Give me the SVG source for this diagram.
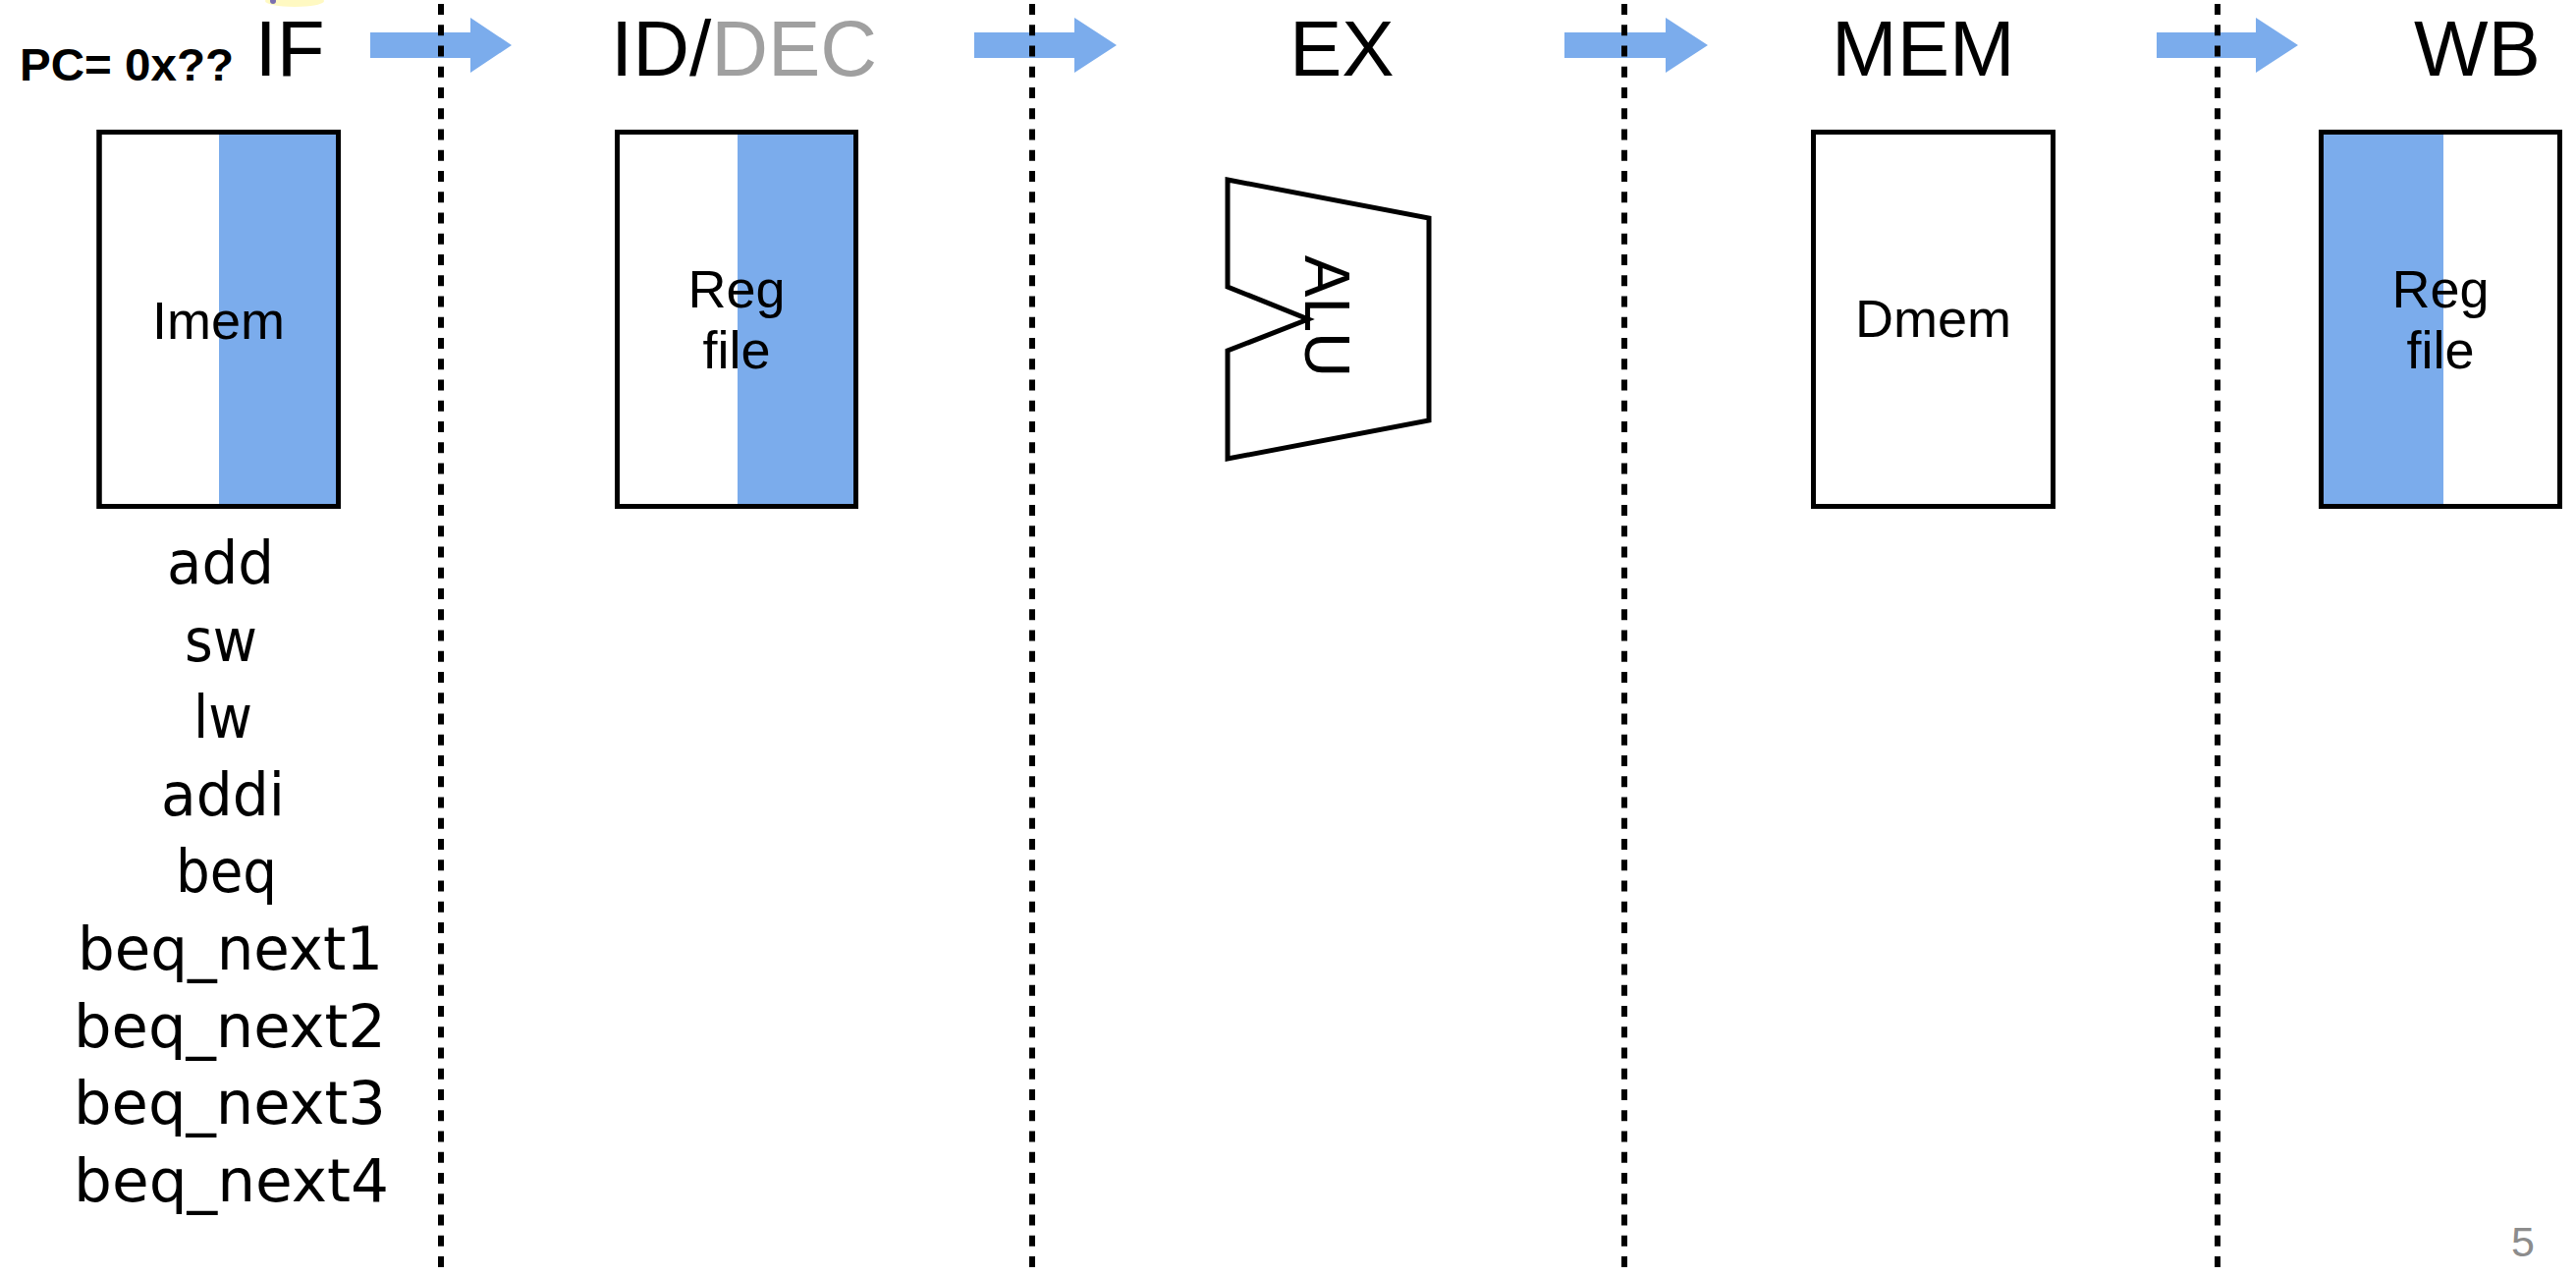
<svg xmlns="http://www.w3.org/2000/svg" width="2623" height="1299" viewBox="0 0 2623 1299">
<style>
.title{font-family:"Liberation Sans",Arial,sans-serif;font-size:80px;fill:#000}
.lbl{font-family:"Liberation Sans",Arial,sans-serif;font-size:54px;fill:#000;text-anchor:middle}
.box{fill:#fff;stroke:#000;stroke-width:5}
.blue{fill:#7BACEC}
.instr{font-family:"DejaVu Sans","Noto Sans",sans-serif;font-size:60px;fill:#000}
.arrow{fill:#7BACEC}
.sep{stroke:#000;stroke-width:6;stroke-dasharray:11 10.25;stroke-dashoffset:-4}
</style>
<rect width="2623" height="1299" fill="#fff"/>

<!-- cursor artifact -->
<ellipse cx="300" cy="1" rx="30" ry="6" fill="#fff6a8" opacity="0.7"/>
<circle cx="278" cy="1" r="3" fill="#7a6fb0"/>

<!-- stage titles -->
<g id="titles">
  <text x="20" y="82" font-family="'Liberation Sans',Arial,sans-serif" font-size="47" font-weight="bold" textLength="218" lengthAdjust="spacingAndGlyphs">PC= 0x??</text>
  <text class="title" x="259.5" y="77">IF</text>
  <text class="title" x="622" y="77">ID/<tspan fill="#A0A0A0">DEC</tspan></text>
  <text class="title" x="1313" y="77">EX</text>
  <text class="title" x="1865" y="77">MEM</text>
  <text class="title" x="2458" y="77">WB</text>
</g>

<!-- connectors: stage arrows -->
<g id="connectors">
  <polygon class="arrow" points="377,33 479,33 479,18 521,46 479,74 479,59 377,59"/>
  <polygon class="arrow" points="992,33 1094,33 1094,18 1137,46 1094,74 1094,59 992,59"/>
  <polygon class="arrow" points="1593,33 1696,33 1696,18 1739,46 1696,74 1696,59 1593,59"/>
  <polygon class="arrow" points="2196,33 2297,33 2297,18 2340,46 2297,74 2297,59 2196,59"/>
</g>

<!-- pipeline stage separators -->
<g id="separators">
  <line class="sep" x1="449" y1="0" x2="449" y2="1299"/>
  <line class="sep" x1="1051" y1="0" x2="1051" y2="1299"/>
  <line class="sep" x1="1654" y1="0" x2="1654" y2="1299"/>
  <line class="sep" x1="2258" y1="0" x2="2258" y2="1299"/>
</g>

<g id="imem">
  <rect class="box" x="101" y="134.5" width="243.5" height="381"/>
  <rect class="blue" x="223" y="137" width="119" height="376"/>
  <rect x="101" y="134.5" width="243.5" height="381" fill="none" stroke="#000" stroke-width="5"/>
  <text class="lbl" x="222.5" y="345">Imem</text>
</g>

<g id="regfile-id">
  <rect class="box" x="628.5" y="134.5" width="243" height="381"/>
  <rect class="blue" x="751" y="137" width="118" height="376"/>
  <rect x="628.5" y="134.5" width="243" height="381" fill="none" stroke="#000" stroke-width="5"/>
  <text class="lbl" x="750" y="313">Reg</text>
  <text class="lbl" x="750" y="375">file</text>
</g>

<g id="alu">
  <path d="M1250,183 L1455,222 L1455,428 L1250,467 L1250,357 L1332,325 L1250,292 Z" fill="#fff" stroke="#000" stroke-width="5" stroke-linejoin="miter"/>
  <text transform="translate(1329,322) rotate(90)" font-family="'Liberation Sans',Arial,sans-serif" font-size="64" text-anchor="middle">ALU</text>
</g>

<g id="dmem">
  <rect class="box" x="1846.5" y="134.5" width="244" height="381"/>
  <text class="lbl" x="1968.5" y="343">Dmem</text>
</g>

<g id="regfile-wb">
  <rect class="box" x="2363.5" y="134.5" width="243" height="381"/>
  <rect class="blue" x="2366" y="137" width="122" height="376"/>
  <rect x="2363.5" y="134.5" width="243" height="381" fill="none" stroke="#000" stroke-width="5"/>
  <text class="lbl" x="2485" y="313">Reg</text>
  <text class="lbl" x="2485" y="375">file</text>
</g>

<g id="instructions">
  <text class="instr" x="170" y="594" textLength="109" lengthAdjust="spacingAndGlyphs">add</text>
  <text class="instr" x="188" y="673" textLength="74" lengthAdjust="spacingAndGlyphs">sw</text>
  <text class="instr" x="197" y="751" textLength="60" lengthAdjust="spacingAndGlyphs">lw</text>
  <text class="instr" x="164" y="830" textLength="126" lengthAdjust="spacingAndGlyphs">addi</text>
  <text class="instr" x="179" y="908" textLength="103" lengthAdjust="spacingAndGlyphs">beq</text>
  <text class="instr" x="79" y="987" textLength="311" lengthAdjust="spacingAndGlyphs">beq_next1</text>
  <text class="instr" x="75" y="1066" textLength="318" lengthAdjust="spacingAndGlyphs">beq_next2</text>
  <text class="instr" x="75" y="1144" textLength="318" lengthAdjust="spacingAndGlyphs">beq_next3</text>
  <text class="instr" x="75" y="1223" textLength="321" lengthAdjust="spacingAndGlyphs">beq_next4</text>
</g>

<text x="2557" y="1279" font-family="'Liberation Sans',Arial,sans-serif" font-size="43" fill="#8C8C8C">5</text>
</svg>
